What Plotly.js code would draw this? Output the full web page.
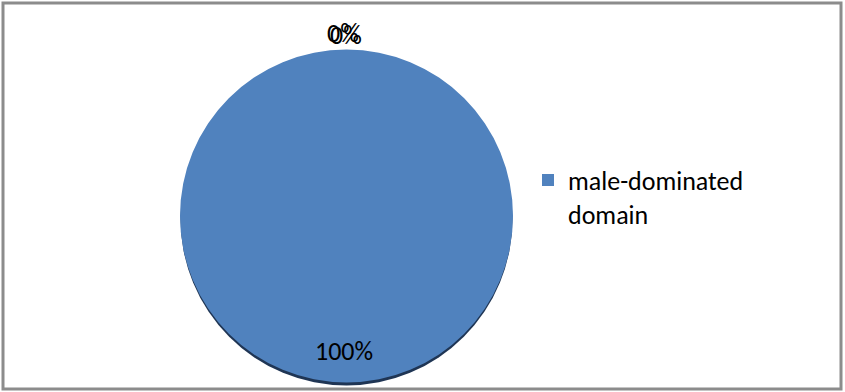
<!DOCTYPE html>
<html>
<head>
<meta charset="utf-8">
<script src="https://cdn.plot.ly/plotly-3.0.1.min.js"></script>
<style>html,body{margin:0;padding:0;background:#fff;}#chart{width:845px;height:392px;}</style>
</head>
<body>
<div id="chart"></div>
<script>
// Data
const categories = ['male-dominated domain', 'female-dominated domain', 'neutral domain'];
const values = [100, 0, 0];
const sliceColors = ['#5082be', '#c0504d', '#9bbb59'];

const W = 845, H = 392;
const FONT = 'Carlito, Lato, "Open Sans", sans-serif';
// pie geometry in pixels
const cx = 346.5, cy = 216, r = 166.5;

const total = values.reduce((a, b) => a + b, 0);
const pctText = values.map(v => Math.round(v / total * 100) + '%');

// only slices with a value appear in the pie / legend (as in the reference)
const shownIdx = values.map((v, i) => i).filter(i => values[i] > 0);

const trace = {
  type: 'pie',
  labels: shownIdx.map(i => categories[i].replace(' ', '<br>')),
  values: shownIdx.map(i => values[i]),
  sort: false,
  direction: 'clockwise',
  rotation: 0,
  textinfo: 'none',
  hoverinfo: 'label+percent',
  marker: {colors: shownIdx.map(i => sliceColors[i]), line: {width: 0}},
  domain: {x: [(cx - r) / W, (cx + r) / W], y: [(H - cy - r) / H, (H - cy + r) / H]}
};

// label placement (pixels): big slice near bottom, zero slices stacked at top
const labelPos = [[344, 351], [343, 33], [346, 35]];
const annotations = pctText.map((t, i) => ({
  xref: 'paper', yref: 'paper',
  x: labelPos[i][0] / W, y: 1 - labelPos[i][1] / H,
  xanchor: 'center', yanchor: 'middle',
  text: t, showarrow: false,
  font: {family: FONT, size: 26, color: '#000'}
}));

const layout = {
  width: W, height: H,
  margin: {l: 0, r: 0, t: 0, b: 0},
  paper_bgcolor: '#fff',
  font: {family: FONT, size: 26, color: '#000'},
  showlegend: true,
  legend: {x: 528 / W, y: 1 - 197 / H, xanchor: 'left', yanchor: 'middle', valign: 'top',
           font: {family: FONT, size: 26, color: '#000'}, bgcolor: 'rgba(0,0,0,0)'},
  annotations: annotations,
  shapes: [
    {type: 'rect', xref: 'paper', yref: 'paper', layer: 'above',
     x0: 3 / W, x1: 841 / W, y0: 1 - 389 / H, y1: 1 - 3 / H,
     line: {color: '#8c8c8c', width: 3}, fillcolor: 'rgba(0,0,0,0)'},
    {type: 'circle', xref: 'paper', yref: 'paper', layer: 'below',
     x0: (cx - r + 0.5) / W, x1: (cx + r - 0.5) / W,
     y0: 1 - (cy + r + 3) / H, y1: 1 - (cy - r + 3) / H,
     line: {width: 0}, fillcolor: '#1f3554'}
  ]
};

Plotly.newPlot('chart', [trace], layout, {displayModeBar: false, staticPlot: true});
</script>
</body>
</html>
